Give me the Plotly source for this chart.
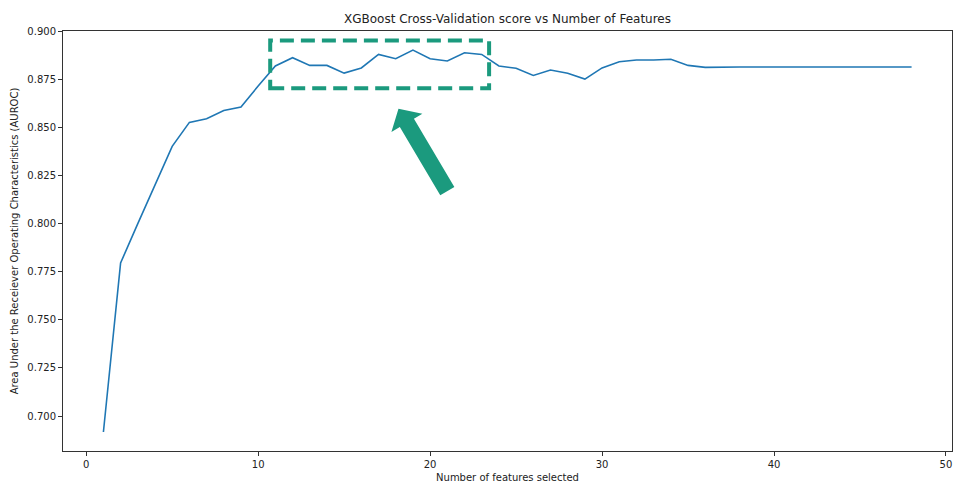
import plotly.graph_objects as go

n_features = list(range(1, 49))
auroc = [0.6917, 0.7796, 0.8000, 0.8203, 0.8402, 0.8527, 0.8546, 0.8589, 0.8607, 0.8716,
         0.8820, 0.8863, 0.8823, 0.8823, 0.8783, 0.8810, 0.8880, 0.8858, 0.8903, 0.8858,
         0.8846, 0.8889, 0.8880, 0.8820, 0.8808, 0.8771, 0.8799, 0.8782, 0.8752, 0.8810,
         0.8842, 0.8851, 0.8851, 0.8855, 0.8823, 0.8813, 0.8815, 0.8815, 0.8815, 0.8815,
         0.8815, 0.8815, 0.8815, 0.8815, 0.8815, 0.8815, 0.8815, 0.8815]
x_ticks = [0, 10, 20, 30, 40, 50]
y_ticks = [0.700, 0.725, 0.750, 0.775, 0.800, 0.825, 0.850, 0.875, 0.900]

# highlight box (data units) and arrow (tip/tail in data units)
box = dict(x0=10.7, x1=23.43, y0=0.8704, y1=0.8953)
arrow_tip = (18.16, 0.8598)
arrow_tail = (21.0, 0.8169)

W, H = 954, 483
M = dict(l=63, r=2, t=31, b=32)
xr = [-1.35, 50.35]
yr = [0.6818, 0.9002]
green = "#1b9a7e"

pw = W - M["l"] - M["r"]
ph = H - M["t"] - M["b"]
sx = pw / (xr[1] - xr[0])
sy = ph / (yr[1] - yr[0])

def to_px(x, y):
    return ((x - xr[0]) * sx, (yr[1] - y) * sy)

def to_data(px, py):
    return (px / sx + xr[0], yr[1] - py / sy)

# build arrow polygon in pixel space
tx, ty = to_px(*arrow_tip)
ex, ey = to_px(*arrow_tail)
L = ((ex - tx) ** 2 + (ey - ty) ** 2) ** 0.5
dx, dy = (ex - tx) / L, (ey - ty) / L
px_, py_ = dy, -dx
head_len, head_half, shaft_half = 16.5, 18.0, 8.2
bx, by = tx + head_len * dx, ty + head_len * dy
pts = [
    (tx, ty),
    (bx + head_half * px_, by + head_half * py_),
    (bx + shaft_half * px_, by + shaft_half * py_),
    (ex + shaft_half * px_, ey + shaft_half * py_),
    (ex - shaft_half * px_, ey - shaft_half * py_),
    (bx - shaft_half * px_, by - shaft_half * py_),
    (bx - head_half * px_, by - head_half * py_),
]
dpts = [to_data(*p) for p in pts]
path = "M " + " L ".join(f"{x:.5f},{y:.6f}" for x, y in dpts) + " Z"

fig = go.Figure()
fig.add_trace(go.Scatter(x=n_features, y=auroc, mode="lines",
                         line=dict(color="#1f77b4", width=1.6), showlegend=False))

fig.add_shape(type="rect", xref="x", yref="y", **box,
              line=dict(color=green, width=4, dash="14px,7px"))
fig.add_shape(type="path", xref="x", yref="y", path=path,
              fillcolor=green, line=dict(width=0))

font = dict(family="DejaVu Sans", size=10, color="#222")
fig.update_layout(
    width=W, height=H, margin=M,
    paper_bgcolor="white", plot_bgcolor="white",
    font=font,
    title=dict(text="XGBoost Cross-Validation score vs Number of Features",
               x=(M["l"] + pw / 2) / W, xanchor="center", y=1 - 19 / H, yanchor="middle",
               font=dict(family="DejaVu Sans", size=12, color="#222")),
)
fig.update_xaxes(range=xr, tickvals=x_ticks, ticktext=[str(v) for v in x_ticks],
                 showgrid=False, zeroline=False, showline=True, mirror=True,
                 linecolor="#333", linewidth=1, ticks="outside", ticklen=4,
                 tickcolor="#333", tickfont=font,
                 title=dict(text="Number of features selected", font=font, standoff=4))
fig.update_yaxes(range=yr, tickvals=y_ticks, ticktext=[f"{v:.3f}" for v in y_ticks],
                 showgrid=False, zeroline=False, showline=True, mirror=True,
                 linecolor="#333", linewidth=1, ticks="outside", ticklen=4,
                 tickcolor="#333", tickfont=font,
                 title=dict(text="Area Under the Receiever Operating Characteristics (AUROC)",
                            font=font, standoff=6))

fig.write_html("out.html")
